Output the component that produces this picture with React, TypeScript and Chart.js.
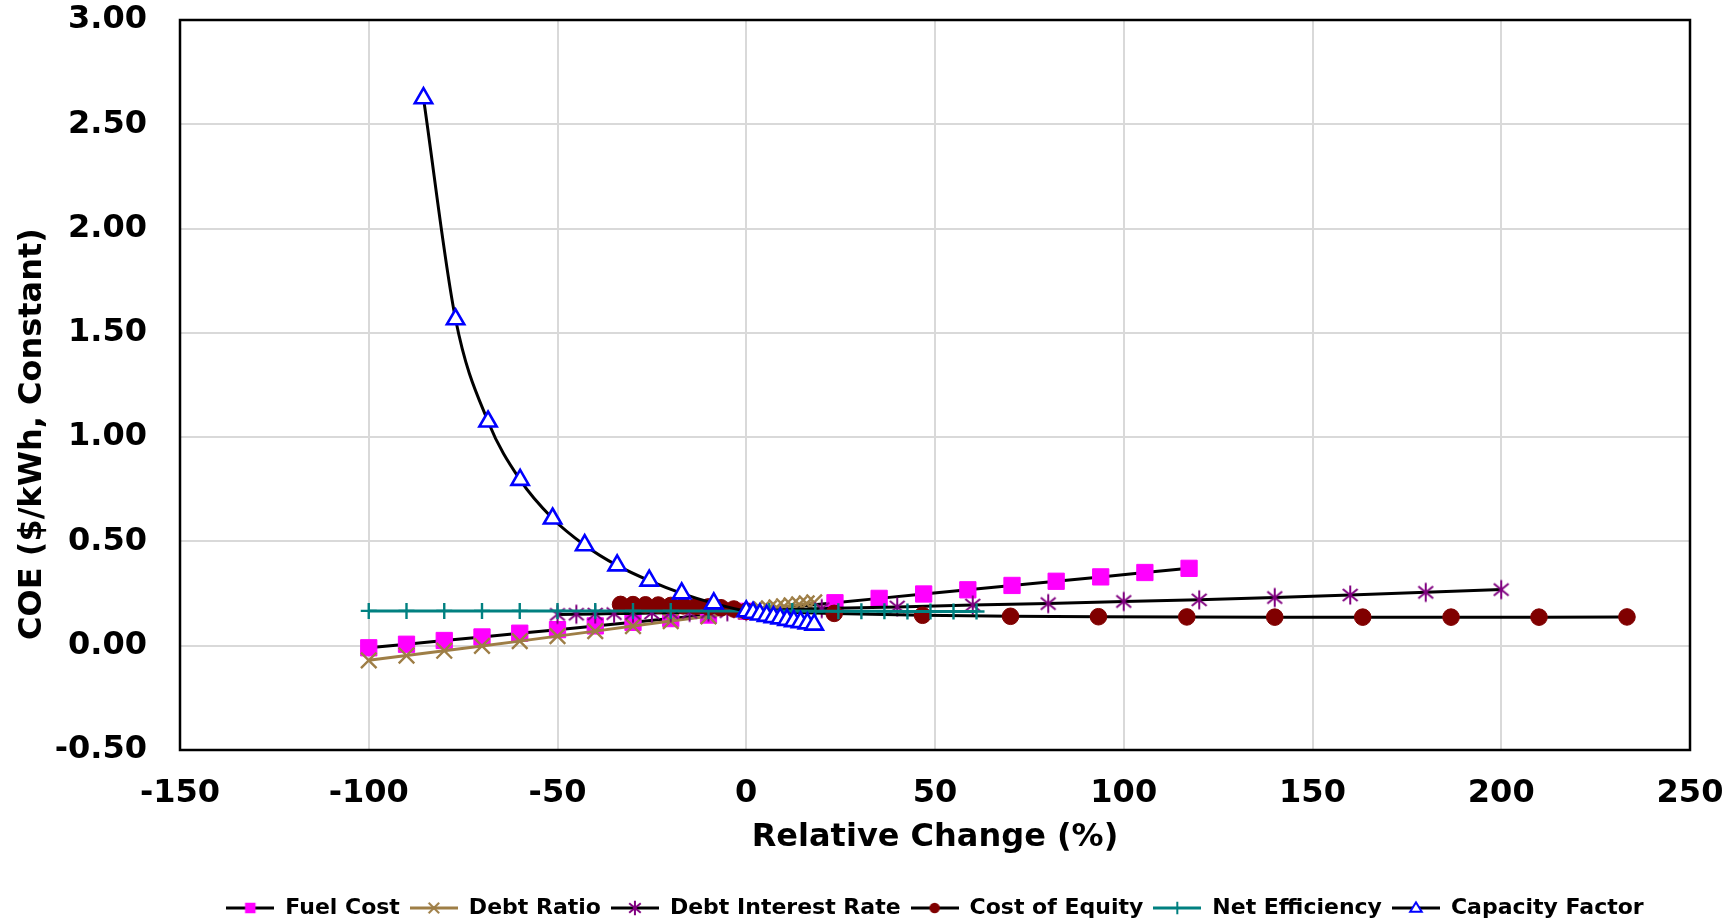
import React, { useEffect, useRef } from 'react';
import { Chart, registerables } from 'chart.js';

Chart.register(...registerables);

// ---------------- data ----------------
const seriesNames = ['Fuel Cost', 'Debt Ratio', 'Debt Interest Rate', 'Cost of Equity', 'Net Efficiency', 'Capacity Factor'];

const fuelCostX = [-100, -90, -80, -70, -60, -50, -40, -30, -20, -10, 0, 23.5, 35.2, 47, 58.7, 70.4, 82.1, 93.9, 105.6, 117.3];
const fuelCostY = [-0.010, 0.007, 0.025, 0.042, 0.060, 0.077, 0.095, 0.112, 0.130, 0.147, 0.165, 0.206, 0.227, 0.248, 0.268, 0.289, 0.309, 0.330, 0.351, 0.371];

const debtRatioX = [-100, -90, -80, -70, -60, -50, -40, -30, -20, -10, 0, 2, 4, 6, 8, 10, 12, 14, 16, 18];
const debtRatioY = [-0.070, -0.047, -0.024, -0.001, 0.022, 0.046, 0.070, 0.094, 0.118, 0.141, 0.165, 0.170, 0.174, 0.179, 0.184, 0.189, 0.193, 0.198, 0.203, 0.208];

const debtInterestX = [-50, -45, -40, -35, -30, -25, -20, -15, -10, -5, 0, 20, 40, 60, 80, 100, 120, 140, 160, 180, 200];
const debtInterestY = [0.150, 0.151, 0.152, 0.154, 0.155, 0.157, 0.158, 0.160, 0.161, 0.163, 0.165, 0.178, 0.186, 0.195, 0.202, 0.212, 0.220, 0.231, 0.243, 0.256, 0.269];

const costEquityX = [-33.3, -30, -26.7, -23.3, -20, -16.7, -13.3, -10, -6.7, -3.3, 0, 23.3, 46.7, 70, 93.3, 116.7, 140, 163.3, 186.7, 210, 233.3];
const costEquityY = [0.198, 0.197, 0.196, 0.195, 0.193, 0.191, 0.189, 0.186, 0.182, 0.176, 0.165, 0.155, 0.146, 0.141, 0.139, 0.138, 0.137, 0.137, 0.137, 0.137, 0.138];

const netEfficiencyX = [-100, -90, -80, -70, -60, -50, -40, -30, -20, -10, 0, 6.1, 12.2, 18.3, 24.4, 30.5, 36.6, 42.7, 48.8, 54.9, 61];
const netEfficiencyY = [0.167, 0.167, 0.167, 0.167, 0.167, 0.167, 0.167, 0.167, 0.167, 0.167, 0.166, 0.166, 0.166, 0.165, 0.165, 0.165, 0.165, 0.164, 0.164, 0.164, 0.164];

const capacityFactorX = [-85.5, -77, -68.4, -59.9, -51.3, -42.8, -34.2, -25.7, -17.1, -8.6, 0, 1.8, 3.6, 5.4, 7.2, 9, 10.8, 12.6, 14.4, 16.2, 18];
const capacityFactorY = [2.625, 1.565, 1.075, 0.795, 0.610, 0.482, 0.385, 0.312, 0.251, 0.203, 0.165, 0.158, 0.150, 0.143, 0.137, 0.131, 0.124, 0.118, 0.113, 0.107, 0.101];

const xTickValues = [-150, -100, -50, 0, 50, 100, 150, 200, 250];
const yTickValues = [-0.5, 0, 0.5, 1.0, 1.5, 2.0, 2.5, 3.0];

const xTitle = 'Relative Change (%)';
const yTitle = 'COE ($/kWh, Constant)';

// ---------------- styles ----------------
const FONT = '"DejaVu Sans", Verdana, sans-serif';
const BROWN = '#9E7E46';
const MAGENTA = '#FF00FF';
const PURPLE = '#800080';
const DARKRED = '#800000';
const TEAL = '#008080';
const BLUE = '#0000FF';
const CLEAR = 'rgba(0,0,0,0)';

type MarkerKind = 'square' | 'x' | 'asterisk' | 'circle' | 'plus' | 'triangle';

function drawMarker(g: CanvasRenderingContext2D, kind: MarkerKind, x: number, y: number, color: string, s: number) {
  g.save();
  g.strokeStyle = color;
  g.fillStyle = color;
  g.lineWidth = 2;
  g.beginPath();
  switch (kind) {
    case 'square':
      g.fillRect(x - 5 * s, y - 5 * s, 10 * s, 10 * s);
      break;
    case 'x':
      g.moveTo(x - 5 * s, y - 5 * s); g.lineTo(x + 5 * s, y + 5 * s);
      g.moveTo(x - 5 * s, y + 5 * s); g.lineTo(x + 5 * s, y - 5 * s);
      g.stroke();
      break;
    case 'asterisk':
      g.moveTo(x - 5.5 * s, y - 4.5 * s); g.lineTo(x + 5.5 * s, y + 4.5 * s);
      g.moveTo(x - 5.5 * s, y + 4.5 * s); g.lineTo(x + 5.5 * s, y - 4.5 * s);
      g.moveTo(x, y - 7 * s); g.lineTo(x, y + 7 * s);
      g.stroke();
      break;
    case 'circle':
      g.arc(x, y, 5 * s, 0, Math.PI * 2);
      g.fill();
      break;
    case 'plus':
      g.moveTo(x, y - 6 * s); g.lineTo(x, y + 6 * s);
      g.moveTo(x - 6 * s, y); g.lineTo(x + 6 * s, y);
      g.stroke();
      break;
    case 'triangle': {
      const h = 9 * s;
      g.moveTo(x, y - h * 0.6);
      g.lineTo(x + 5.5 * s, y + h * 0.4);
      g.lineTo(x - 5.5 * s, y + h * 0.4);
      g.closePath();
      g.fillStyle = '#ffffff';
      g.fill();
      g.stroke();
      break;
    }
  }
  g.restore();
}

function makeAsteriskPoint(): HTMLCanvasElement {
  const c = document.createElement('canvas');
  c.width = 26; c.height = 26;
  const g = c.getContext('2d')!;
  drawMarker(g, 'asterisk', 13, 13, PURPLE, 1.35);
  return c;
}

function makeLegendIcon(lineColor: string, kind: MarkerKind, markerColor: string): HTMLCanvasElement {
  const c = document.createElement('canvas');
  c.width = 48; c.height = 22;
  const g = c.getContext('2d')!;
  g.strokeStyle = lineColor;
  g.lineWidth = 3;
  g.beginPath();
  g.moveTo(0, 11); g.lineTo(48, 11);
  g.stroke();
  drawMarker(g, kind, 24, 11, markerColor, 1.05);
  return c;
}

const toPoints = (xs: number[], ys: number[]) => xs.map((x, i) => ({ x, y: ys[i] }));

const framePlugin = {
  id: 'excelFrame',
  beforeDatasetsDraw(chart: any) {
    const { ctx, chartArea: a } = chart;
    ctx.save();
    ctx.strokeStyle = '#000000';
    ctx.lineWidth = 2.5;
    ctx.strokeRect(a.left, a.top, a.right - a.left, a.bottom - a.top);
    ctx.restore();
  },
  afterDraw(chart: any) {
    const { ctx, chartArea: a } = chart;
    ctx.save();
    ctx.font = `bold 32px ${FONT}`;
    ctx.fillStyle = '#000000';
    ctx.textAlign = 'center';
    ctx.textBaseline = 'middle';
    ctx.translate(33, (a.top + a.bottom) / 2 + 49);
    ctx.rotate(-Math.PI / 2);
    ctx.fillText(yTitle, 0, 0);
    ctx.restore();
  },
};

export default function App() {
  const ref = useRef<HTMLCanvasElement>(null);

  useEffect(() => {
    const asterisk = makeAsteriskPoint();
    const icons = [
      makeLegendIcon('#000000', 'square', MAGENTA),
      makeLegendIcon(BROWN, 'x', BROWN),
      makeLegendIcon('#000000', 'asterisk', PURPLE),
      makeLegendIcon('#000000', 'circle', DARKRED),
      makeLegendIcon(TEAL, 'plus', TEAL),
      makeLegendIcon('#000000', 'triangle', BLUE),
    ];

    const base = { showLine: true, fill: false, borderWidth: 3, pointHoverRadius: 0 };

    const datasets: any[] = [
      {
        ...base, label: seriesNames[0], data: toPoints(fuelCostX, fuelCostY),
        borderColor: '#000000', pointStyle: 'rect', pointRadius: 11.5,
        pointBackgroundColor: MAGENTA, pointBorderColor: MAGENTA, pointBorderWidth: 1, order: 6,
      },
      {
        ...base, label: seriesNames[1], data: toPoints(debtRatioX, debtRatioY),
        borderColor: BROWN, pointStyle: 'crossRot', pointRadius: 11,
        pointBackgroundColor: BROWN, pointBorderColor: BROWN, pointBorderWidth: 2.4, order: 5,
      },
      {
        ...base, label: seriesNames[2], data: toPoints(debtInterestX, debtInterestY),
        borderColor: '#000000', pointStyle: asterisk, pointRadius: 9,
        pointBackgroundColor: PURPLE, pointBorderColor: PURPLE, pointBorderWidth: 2, order: 4,
      },
      {
        ...base, label: seriesNames[3], data: toPoints(costEquityX, costEquityY),
        borderColor: '#000000', pointStyle: 'circle', pointRadius: 8.3,
        pointBackgroundColor: DARKRED, pointBorderColor: DARKRED, pointBorderWidth: 1, order: 3,
      },
      {
        ...base, label: seriesNames[4], data: toPoints(netEfficiencyX, netEfficiencyY),
        borderColor: TEAL, pointStyle: 'cross', pointRadius: 8,
        pointBackgroundColor: TEAL, pointBorderColor: TEAL, pointBorderWidth: 2.4, order: 2,
      },
      {
        ...base, label: seriesNames[5], data: toPoints(capacityFactorX, capacityFactorY),
        borderColor: '#000000', pointStyle: 'triangle', pointRadius: 10,
        pointBackgroundColor: '#ffffff', pointBorderColor: BLUE, pointBorderWidth: 2.6,
        cubicInterpolationMode: 'monotone', order: 1,
      },
    ];

    const tickFont = { family: FONT, size: 32, weight: 'bold' as const };

    const chart = new Chart(ref.current!, {
      type: 'scatter',
      data: { datasets },
      plugins: [framePlugin],
      options: {
        animation: false,
        responsive: true,
        maintainAspectRatio: false,
        events: [],
        layout: { padding: { left: 0, right: 45, top: 20, bottom: 0 } },
        scales: {
          x: {
            type: 'linear',
            min: xTickValues[0],
            max: xTickValues[xTickValues.length - 1],
            afterBuildTicks: (scale: any) => { scale.ticks = xTickValues.map((v) => ({ value: v })); },
            afterFit: (scale: any) => { scale.height = 137; },
            ticks: {
              color: '#000000', font: tickFont, padding: 0, autoSkip: false, maxRotation: 0,
              callback: (v: any) => String(v),
            },
            grid: { color: '#d9d9d9', lineWidth: 2, drawTicks: true, tickLength: 24, tickColor: CLEAR },
            border: { display: false },
            title: {
              display: true, text: xTitle, color: '#000000',
              font: { family: FONT, size: 32, weight: 'bold' },
              padding: { top: 0, bottom: 30 },
            },
          },
          y: {
            type: 'linear',
            min: yTickValues[0],
            max: yTickValues[yTickValues.length - 1],
            afterBuildTicks: (scale: any) => { scale.ticks = yTickValues.map((v) => ({ value: v })); },
            afterFit: (scale: any) => { scale.width = 180; },
            ticks: {
              color: '#000000', font: tickFont, padding: 0, autoSkip: false,
              callback: (v: any) => Number(v).toFixed(2),
            },
            grid: { color: '#d9d9d9', lineWidth: 2, drawTicks: true, tickLength: 33, tickColor: CLEAR },
            border: { display: false },
            title: { display: false },
          },
        },
        plugins: {
          tooltip: { enabled: false },
          title: { display: false },
          legend: {
            display: true,
            position: 'bottom',
            fullSize: false,
            maxHeight: 36,
            labels: {
              usePointStyle: true,
              pointStyleWidth: 48,
              padding: 10,
              color: '#000000',
              font: { family: FONT, size: 22, weight: 'bold' },
              generateLabels: (c: any) =>
                c.data.datasets.map((ds: any, i: number) => ({
                  text: ds.label,
                  pointStyle: icons[i],
                  fillStyle: CLEAR,
                  strokeStyle: CLEAR,
                  lineWidth: 0,
                  hidden: false,
                  datasetIndex: i,
                  fontColor: '#000000',
                })),
              sort: (a: any, b: any) => a.datasetIndex - b.datasetIndex,
            },
          },
        },
      } as any,
    });

    return () => chart.destroy();
  }, []);

  return (
    <div style={{ position: 'fixed', left: 0, top: 0, width: 1735, height: 923, background: '#ffffff' }}>
      <canvas ref={ref} />
    </div>
  );
}
